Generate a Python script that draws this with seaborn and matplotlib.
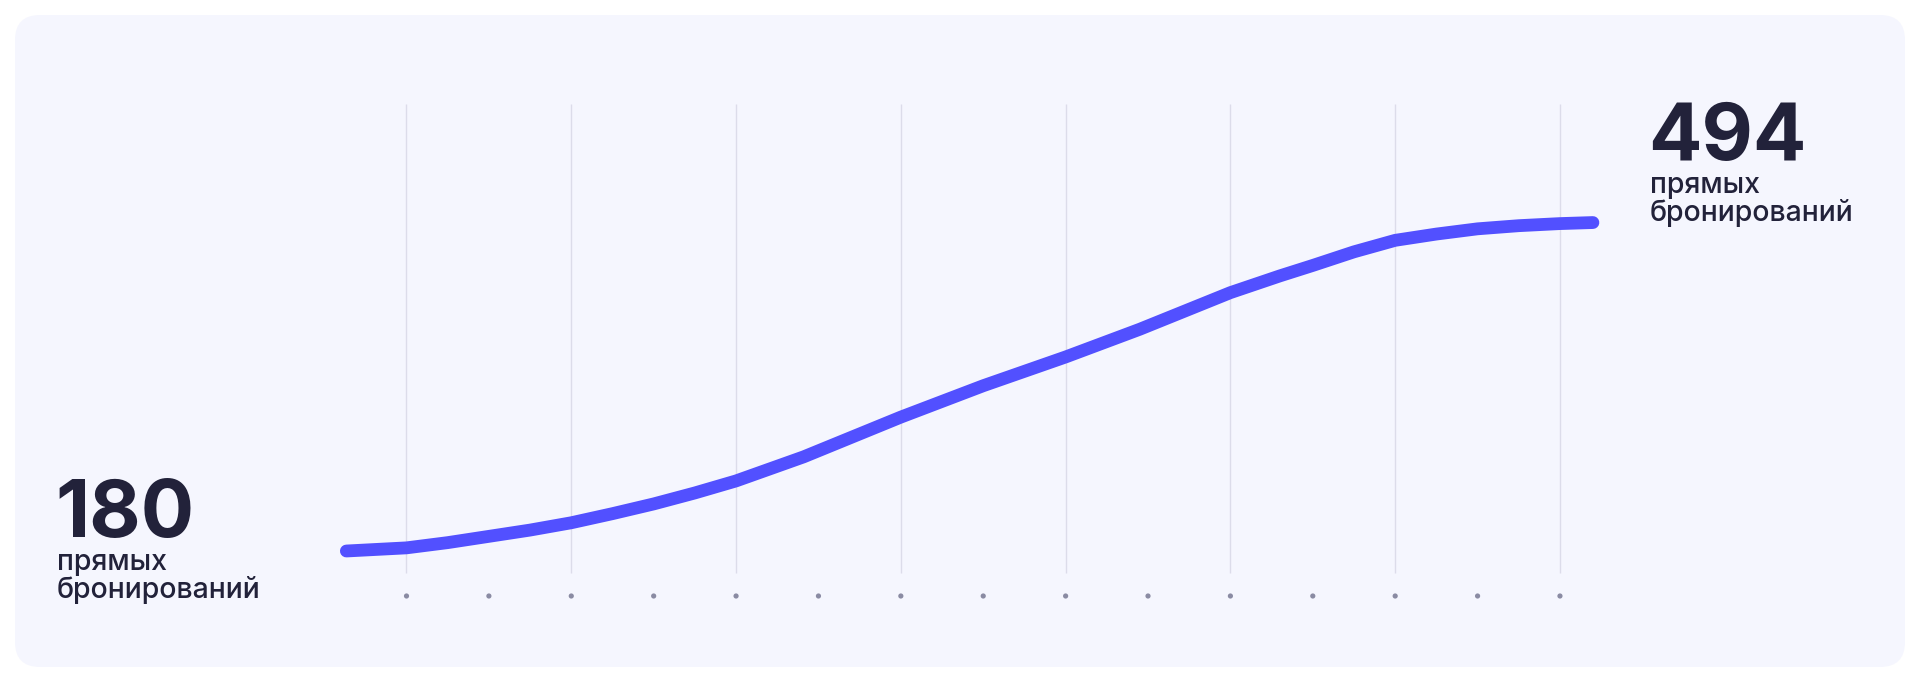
"""
Direct bookings growth chart: smooth line from 180 to 494 on a light card.
"""

import matplotlib.pyplot as plt
import numpy as np
import pandas as pd
import seaborn as sns
from matplotlib.patches import FancyBboxPatch

# ── Data ────────────────────────────────────────────────────────────

period = [-0.73, 0, 0.5, 1, 1.5, 2, 2.5, 3, 3.5, 4, 4.82, 6, 7, 8, 8.9,
          10, 10.6, 11, 11.5, 12, 12.5, 13, 13.5, 14, 14.4]
bookings = [180, 183, 188, 194, 200, 207, 215.7, 225, 235.5, 247, 270, 308, 338, 365.5, 392,
            427, 443, 453, 466, 477, 483, 488, 491, 493, 494]
tick_steps = list(range(15))
grid_steps = tick_steps[::2]

start_value = "180"
end_value = "494"
caption = ["прямых", "бронирований"]

# ── Theme ───────────────────────────────────────────────────────────

sns.set_theme(style="white")
plt.rcParams["font.family"] = ["Inter", "DejaVu Sans"]

LINE_COLOR = "#5250ff"
TEXT_COLOR = "#22223a"
GRID_COLOR = "#dcdcea"
DOT_COLOR = "#8a8ba3"
CARD_COLOR = "#f5f6fe"

W, H, DPI = 1920, 682, 100
fig = plt.figure(figsize=(W / DPI, H / DPI), dpi=DPI, facecolor="white")

# card background (kept below the axes)
card = FancyBboxPatch(
    (15 / W, 15 / H), (1905 - 15) / W, (667 - 15) / H,
    boxstyle="round,pad=0,rounding_size=0.013",
    transform=fig.transFigure, facecolor=CARD_COLOR, edgecolor="none",
    mutation_aspect=W / H, zorder=-10,
)
fig.patches.append(card)

ax = fig.add_axes([0, 0, 1, 1])
ax.set_facecolor("none")
ax.set_axis_off()

# pixel → data mapping
x0_px, step_px = 406.5, 82.39
ax.set_xlim(-x0_px / step_px, (W - x0_px) / step_px)
y_per_px = 0.956
ax.set_ylim(180 - (H - 551) * y_per_px, 180 + 551 * y_per_px)

grid_top = 180 + (551 - 104) * y_per_px
grid_bot = 180 + (551 - 573) * y_per_px
dot_y = 180 + (551 - 596) * y_per_px

ax.vlines(grid_steps, grid_bot, grid_top, color=GRID_COLOR, linewidth=1.0, zorder=1)

sns.scatterplot(
    x=tick_steps, y=[dot_y] * len(tick_steps), ax=ax,
    color=DOT_COLOR, s=14, edgecolor="none", zorder=2, legend=False,
)

df = pd.DataFrame({"period": period, "bookings": bookings})
sns.lineplot(
    data=df, x="period", y="bookings", ax=ax, sort=False,
    color=LINE_COLOR, linewidth=9.2, solid_capstyle="round",
    solid_joinstyle="round", zorder=3,
)

# ── Labels ──────────────────────────────────────────────────────────

def label(x_px, base_px, value):
    fig.text(x_px / W, 1 - base_px / H, value, fontsize=57, fontweight="bold",
             color=TEXT_COLOR, va="baseline", ha="left")
    for i, line in enumerate(caption):
        fig.text((x_px + 2) / W, 1 - (base_px + 33 + 28 * i) / H, line,
                 fontsize=20.5, fontweight="medium", color=TEXT_COLOR,
                 va="baseline", ha="left")


label(55, 537, start_value)
label(1648, 160, end_value)

fig.savefig("out.png", dpi=DPI, facecolor="white")
plt.close(fig)
